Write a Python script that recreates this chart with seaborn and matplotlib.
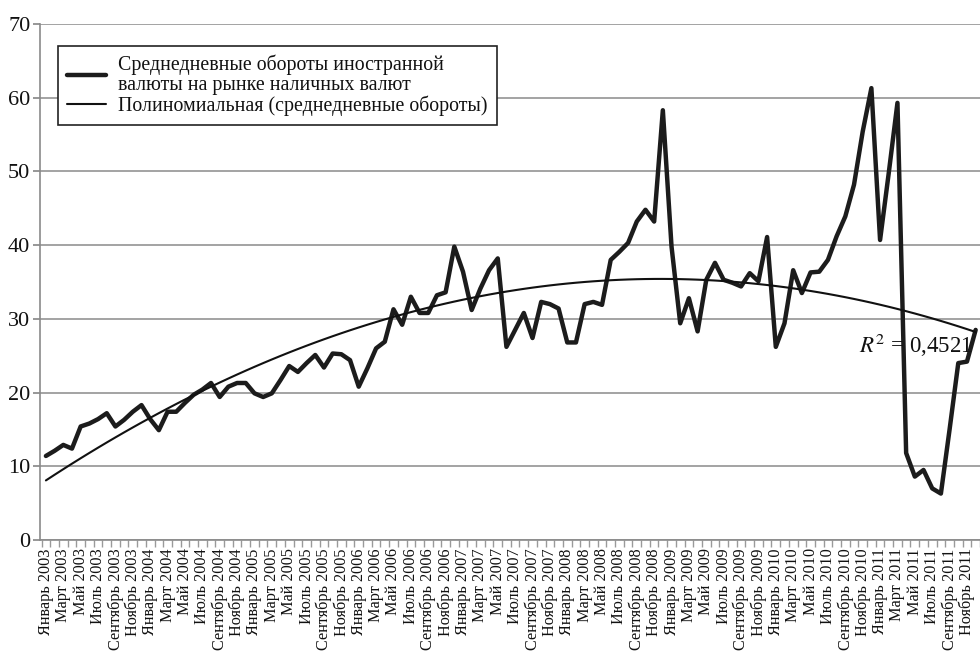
import numpy as np
import pandas as pd
import matplotlib
matplotlib.use("Agg")
from matplotlib import pyplot as plt
import seaborn as sns

# monthly averages from January 2003
month_names = ['Январь', 'Февраль', 'Март', 'Апрель', 'Май', 'Июнь',
               'Июль', 'Август', 'Сентябрь', 'Октябрь', 'Ноябрь', 'Декабрь']
years = list(range(2003, 2012))
values = [11.4, 12.1, 12.9, 12.4, 15.4, 15.8, 16.4, 17.2, 15.4, 16.3, 17.4, 18.3,
          16.4, 14.9, 17.4, 17.4, 18.6, 19.7, 20.4, 21.3, 19.4, 20.8, 21.3, 21.3,
          19.9, 19.4, 19.9, 21.7, 23.6, 22.8, 24.0, 25.1, 23.4, 25.3, 25.2, 24.4,
          20.8, 23.3, 26.0, 26.9, 31.3, 29.2, 33.0, 30.8, 30.8, 33.2, 33.6, 39.8,
          36.4, 31.2, 34.1, 36.6, 38.2, 26.2, 28.5, 30.8, 27.4, 32.3, 32.0, 31.4,
          26.8, 26.8, 32.0, 32.3, 31.9, 38.0, 39.1, 40.3, 43.2, 44.8, 43.2, 58.3,
          39.8, 29.4, 32.8, 28.3, 35.3, 37.6, 35.3, 34.9, 34.4, 36.2, 35.1, 41.1,
          26.2, 29.4, 36.6, 33.5, 36.3, 36.4, 38.0, 41.2, 43.9, 48.2, 55.4, 61.3,
          40.7, 49.8, 59.3, 11.8, 8.6, 9.5, 7.0, 6.3, 15.0, 24.0, 24.2, 28.5]
series_label = 'Среднедневные обороты иностранной\nвалюты на рынке наличных валют'
trend_label = 'Полиномиальная (среднедневные обороты)'
r2_text = r'$R^2$ = 0,4521'

labels = [f'{m} {y}' for y in years for m in month_names][:len(values)]
df = pd.DataFrame({'i': np.arange(len(values)), 'value': values, 'label': labels})

# polynomial trend (2nd order) like the Excel trendline
coef = np.polyfit(df['i'], df['value'], 2)
df['trend'] = np.polyval(coef, df['i'])

sns.set_theme(style="white")
plt.rcParams['font.family'] = ['Liberation Serif', 'DejaVu Serif']
plt.rcParams['mathtext.fontset'] = 'stix'

fig = plt.figure(figsize=(9.8, 6.55), dpi=100)
ax = fig.add_axes([40/980, 115/655, 940/980, 516/655])

sns.lineplot(data=df, x='i', y='value', ax=ax, color='#1c1c1c', lw=3.2,
             label=series_label)
sns.lineplot(data=df, x='i', y='trend', ax=ax, color='#111111', lw=1.5,
             label=trend_label)

ax.set_xlim(-0.68, 106.14)
ax.set_ylim(0, 70)
ax.set_yticks(range(0, 71, 10))
ax.yaxis.grid(True, color='#8a8a8a', lw=1.1)
ax.xaxis.grid(False)
ax.tick_params(axis='y', labelsize=16, length=5, color='#8a8a8a', left=True, pad=2,
               labelcolor='#111111')
ax.set_xticks(df['i'][::2])
ax.set_xticklabels(df['label'][::2], rotation=90, fontsize=11.7, color='#111111')
ax.set_xticks(np.arange(-0.5, len(values), 1), minor=True)
ax.tick_params(axis='x', which='major', length=0, pad=6)
ax.tick_params(axis='x', which='minor', length=5, color='#9a9a9a', bottom=True)
ax.set_xlabel('')
ax.set_ylabel('')
for side in ['top', 'right']:
    ax.spines[side].set_visible(False)
for side in ['left', 'bottom']:
    ax.spines[side].set_color('#8a8a8a')
    ax.spines[side].set_linewidth(1.2)

ax.text(100.1, 26.4, r2_text, ha='center', va='center', fontsize=16.5, color='#111111')

leg = ax.legend(loc='upper left', bbox_to_anchor=(0.0188, 0.958), borderaxespad=0,
                fontsize=14.3, frameon=True, fancybox=False, framealpha=1,
                handlelength=2.0, handletextpad=0.6, labelspacing=0.05,
                borderpad=0.45)
leg.get_frame().set_edgecolor('#222222')
leg.get_frame().set_linewidth(1.2)
for t in leg.get_texts():
    t.set_color('#111111')
    t.set_linespacing(1.05)

fig.savefig('out.png', dpi=100)
